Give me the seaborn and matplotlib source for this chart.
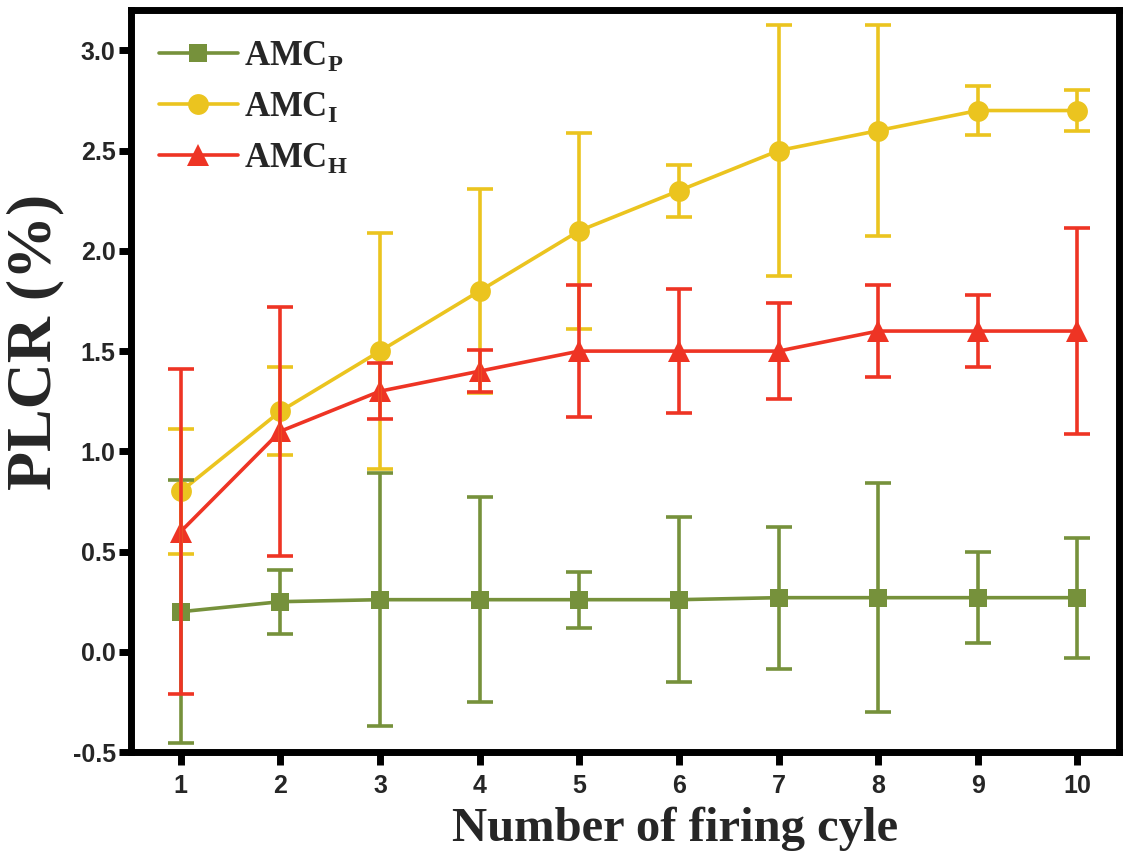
import numpy as np
import pandas as pd
import matplotlib
matplotlib.use("Agg")
import matplotlib.pyplot as plt
import seaborn as sns

# ---- data ----
cycles = [1, 2, 3, 4, 5, 6, 7, 8, 9, 10]
amc_p = [0.20, 0.25, 0.26, 0.26, 0.26, 0.26, 0.27, 0.27, 0.27, 0.27]
amc_p_err = [0.655, 0.16, 0.63, 0.51, 0.14, 0.41, 0.355, 0.57, 0.227, 0.30]
amc_i = [0.80, 1.20, 1.50, 1.80, 2.10, 2.30, 2.50, 2.60, 2.70, 2.70]
amc_i_err = [0.31, 0.22, 0.59, 0.51, 0.49, 0.13, 0.625, 0.525, 0.12, 0.10]
amc_h = [0.60, 1.10, 1.30, 1.40, 1.50, 1.50, 1.50, 1.60, 1.60, 1.60]
amc_h_err = [0.81, 0.62, 0.14, 0.105, 0.33, 0.31, 0.24, 0.23, 0.18, 0.515]

series_keys = ["P", "I", "H"]
series_labels = [r"AMC$_\mathrm{P}$", r"AMC$_\mathrm{I}$", r"AMC$_\mathrm{H}$"]
colors = {"P": "#76913B", "I": "#EBC41F", "H": "#EE3424"}
markers = {"P": "s", "I": "o", "H": "^"}
msizes = {"P": 13, "I": 15, "H": 16}
y_ticks = [-0.5, 0.0, 0.5, 1.0, 1.5, 2.0, 2.5, 3.0]
x_label = "Number of firing cyle"
y_label = "PLCR (%)"

values = {"P": amc_p, "I": amc_i, "H": amc_h}
errors = {"P": amc_p_err, "I": amc_i_err, "H": amc_h_err}

df = pd.DataFrame({
    "cycle": cycles * 3,
    "value": amc_p + amc_i + amc_h,
    "series": ["P"] * 10 + ["I"] * 10 + ["H"] * 10,
})

sns.set_theme(style="white")
plt.rcParams["font.family"] = ["Liberation Sans", "DejaVu Sans"]
plt.rcParams["mathtext.fontset"] = "custom"
plt.rcParams["mathtext.rm"] = "Liberation Serif:bold"
plt.rcParams["mathtext.bf"] = "Liberation Serif:bold"
plt.rcParams["axes.unicode_minus"] = False

fig = plt.figure(figsize=(11.27, 8.58), dpi=100)
ax = fig.add_axes([0.1162, 0.1235, 0.8770, 0.8645])

for k in series_keys:
    sub = df[df["series"] == k]
    sns.lineplot(data=sub, x="cycle", y="value", color=colors[k],
                 marker=markers[k], markersize=msizes[k], markeredgewidth=0,
                 linewidth=2.6, ax=ax, legend=False, zorder=3)

handles = list(ax.lines[:3])

for k in series_keys:
    ax.errorbar(cycles, values[k], yerr=errors[k], fmt="none",
                ecolor=colors[k], elinewidth=2.6, capsize=9.5,
                capthick=2.6, zorder=4)

ax.set_xlim(0.5, 10.42)
ax.set_ylim(-0.5, 3.2)
ax.set_xticks(cycles)
ax.set_xticklabels([str(c) for c in cycles])
ax.set_yticks(y_ticks)
ax.set_yticklabels([f"{t:.1f}" for t in y_ticks])

for s in ax.spines.values():
    s.set_linewidth(5)
    s.set_color("black")

ax.tick_params(axis="both", which="major", direction="out", length=9,
               width=5, color="black", labelsize=18, bottom=True, left=True)
ax.tick_params(axis="y", pad=2)
ax.tick_params(axis="x", pad=7)
for lab in ax.get_xticklabels() + ax.get_yticklabels():
    lab.set_fontweight("bold")
    lab.set_family(["Liberation Sans", "DejaVu Sans"])

ax.set_xlabel(x_label, family="Liberation Serif", fontweight="bold",
              fontsize=35)
ax.set_ylabel(y_label, family="Liberation Serif", fontweight="bold",
              fontsize=46)
ax.xaxis.set_label_coords(0.551, -0.074)
ax.yaxis.set_label_coords(-0.067, 0.553)

leg = ax.legend(handles, series_labels, loc="upper left",
                bbox_to_anchor=(0.0, 1.0), frameon=False,
                prop={"family": "Liberation Serif", "weight": "bold",
                      "size": 25},
                handlelength=2.25, handletextpad=0.2, labelspacing=0.5,
                borderaxespad=0.42, borderpad=0.4)

fig.savefig("out.png", dpi=100)
